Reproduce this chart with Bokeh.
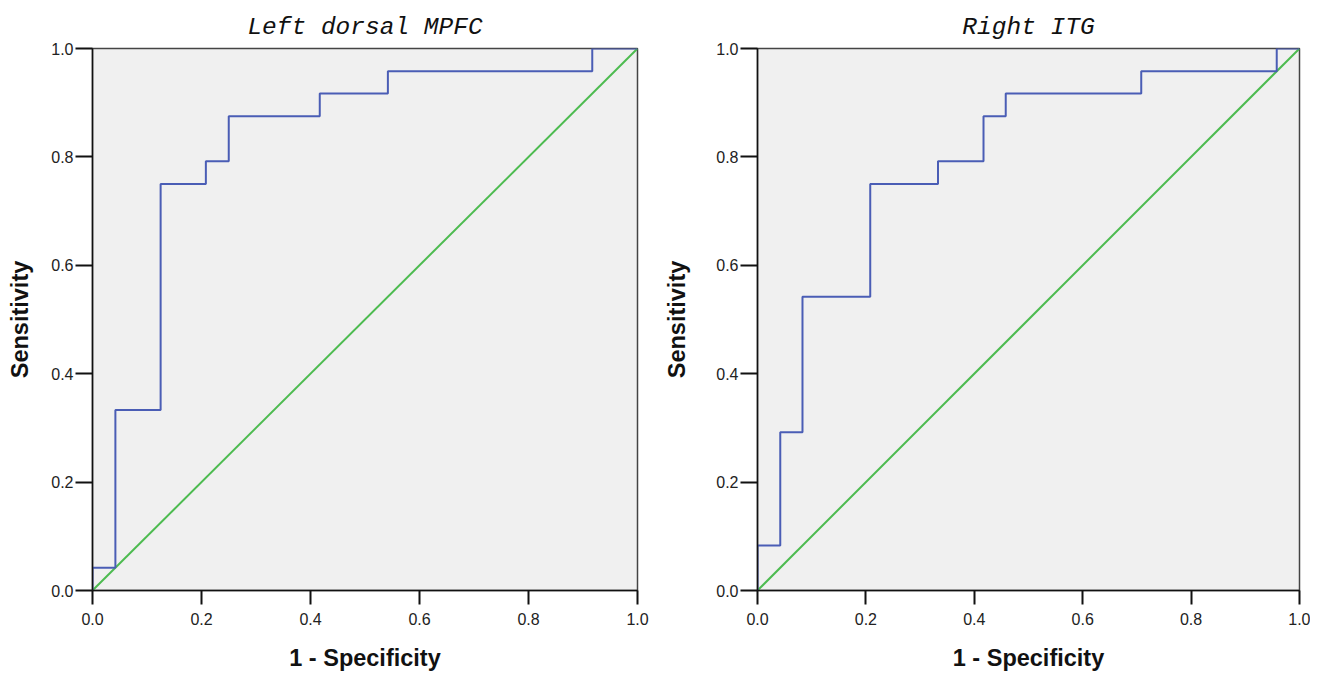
from bokeh.plotting import figure
from bokeh.models import Range1d, FixedTicker, NumeralTickFormatter
from bokeh.layouts import row
from bokeh.embed import file_html
from bokeh.resources import INLINE

# ROC curve vertices (1 - specificity, sensitivity)
left_title = "Left dorsal MPFC"
left_fpr = [0.0, 0.0, 0.042, 0.042, 0.125, 0.125, 0.208, 0.208, 0.25, 0.25, 0.417, 0.417, 0.542, 0.542, 0.917, 0.917, 1.0]
left_tpr = [0.0, 0.042, 0.042, 0.333, 0.333, 0.75, 0.75, 0.792, 0.792, 0.875, 0.875, 0.917, 0.917, 0.958, 0.958, 1.0, 1.0]

right_title = "Right ITG"
right_fpr = [0.0, 0.0, 0.042, 0.042, 0.083, 0.083, 0.208, 0.208, 0.333, 0.333, 0.417, 0.417, 0.458, 0.458, 0.708, 0.708, 0.958, 0.958, 1.0]
right_tpr = [0.0, 0.083, 0.083, 0.292, 0.292, 0.542, 0.542, 0.75, 0.75, 0.792, 0.792, 0.875, 0.875, 0.917, 0.917, 0.958, 0.958, 1.0, 1.0]

ref_x = [0.0, 1.0]
ref_y = [0.0, 1.0]
ticks = [0.0, 0.2, 0.4, 0.6, 0.8, 1.0]
x_label = "1 - Specificity"
y_label = "Sensitivity"

BLUE = "#4a5db5"
GREEN = "#4dbb50"


def make(title, fx, ty, width, height, bl, bt, bb, br, ylab_standoff):
    p = figure(width=width, height=height, output_backend="svg", toolbar_location=None,
               x_range=Range1d(0, 1), y_range=Range1d(0, 1),
               min_border_left=bl, min_border_top=bt, min_border_bottom=bb, min_border_right=br,
               title=title)
    p.title.align = "center"
    p.title.text_font = "Liberation Mono"
    p.title.text_font_style = "italic"
    p.title.text_font_size = "24.5px"
    p.title.text_color = "#111111"
    p.title.offset = 0
    p.title.standoff = 16
    p.background_fill_color = "#f0f0f0"
    p.border_fill_color = "white"
    p.outline_line_color = "#444444"
    p.outline_line_width = 1.5
    p.xgrid.visible = False
    p.ygrid.visible = False
    for ax in (p.xaxis[0], p.yaxis[0]):
        ax.ticker = FixedTicker(ticks=ticks)
        ax.formatter = NumeralTickFormatter(format="0.0")
        ax.axis_line_color = "#111111"
        ax.axis_line_width = 1.5
        ax.major_tick_line_color = "#111111"
        ax.major_tick_line_width = 2
        ax.major_tick_in = 0
        ax.minor_tick_line_color = None
        ax.major_label_text_font = "Liberation Sans"
        ax.major_label_text_font_size = "16px"
        ax.major_label_text_color = "#222222"
        ax.major_label_text_line_height = 0.9
        ax.axis_label_text_font = "Liberation Sans"
        ax.axis_label_text_font_style = "bold"
        ax.axis_label_text_font_size = "23.5px"
        ax.axis_label_text_color = "#111111"
        ax.axis_label_text_line_height = 0.8
    p.xaxis.axis_label = x_label
    p.yaxis.axis_label = y_label
    p.xaxis.major_tick_out = 14
    p.yaxis.major_tick_out = 17
    p.xaxis.major_label_standoff = 8
    p.xaxis.axis_label_standoff = 17
    p.yaxis.major_label_standoff = 2
    p.yaxis.axis_label_standoff = ylab_standoff
    p.line(ref_x, ref_y, line_color=GREEN, line_width=2)
    p.line(fx, ty, line_color=BLUE, line_width=2)
    return p


p1 = make(left_title, left_fpr, left_tpr, 660, 673, 92, 47, 80, 23, 15)
p2 = make(right_title, right_fpr, right_tpr, 650, 673, 97, 48, 82, 11, 23)

layout = row(p1, p2)
open("out.html", "w").write(file_html(layout, INLINE))
